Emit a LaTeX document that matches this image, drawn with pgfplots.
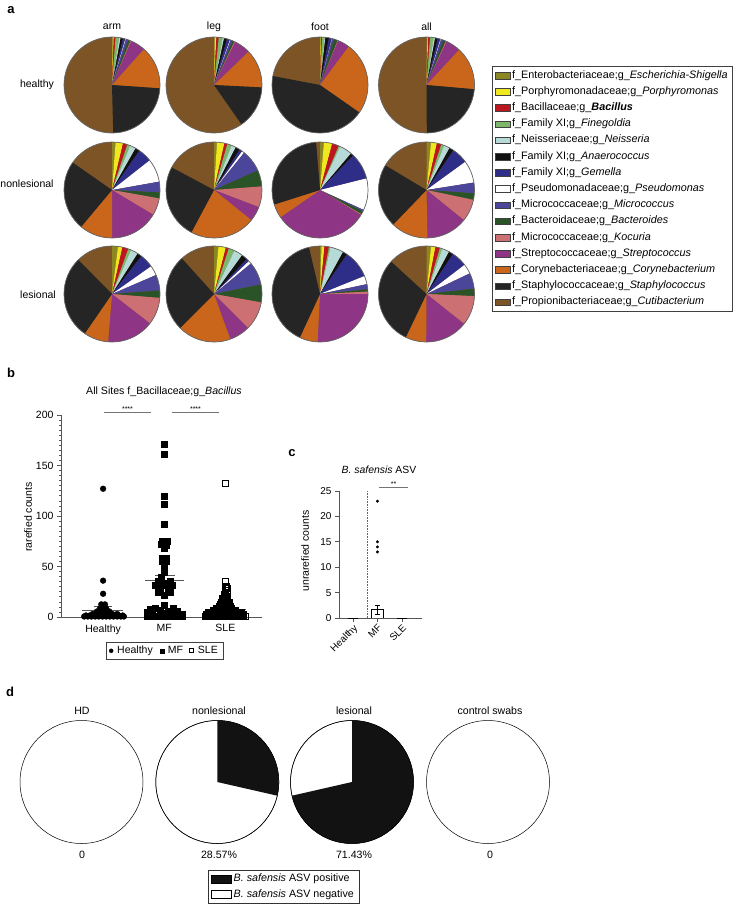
\documentclass[border=0pt]{standalone}
\usepackage{pgfplots}
\pgfplotsset{compat=1.18}
\usepackage{fontspec}
\setmainfont{Liberation Sans}

\definecolor{pc1}{RGB}{140,135,35}
\definecolor{pc2}{RGB}{240,232,30}
\definecolor{pc3}{RGB}{190,22,30}
\definecolor{pc4}{RGB}{125,183,106}
\definecolor{pc5}{RGB}{182,218,216}
\definecolor{pc6}{RGB}{17,17,17}
\definecolor{pc7}{RGB}{46,45,136}
\definecolor{pc8}{RGB}{255,255,255}
\definecolor{pc9}{RGB}{76,70,155}
\definecolor{pc10}{RGB}{42,84,39}
\definecolor{pc11}{RGB}{205,112,116}
\definecolor{pc12}{RGB}{142,53,134}
\definecolor{pc13}{RGB}{201,102,28}
\definecolor{pc14}{RGB}{37,37,37}
\definecolor{pc15}{RGB}{124,84,38}
\definecolor{axg}{RGB}{85,85,85}

\newcommand\fs[1]{\fontsize{#1}{#1}\selectfont}

% pie of 15 genera: 14 listed shares (percent), the last genus (Cutibacterium) is the remainder
\newcommand\pie[4]{%
  \edef\temp{\noexpand\fill[pc15] (axis cs:#1,#2) circle[radius=#3pt];}\temp
  \def\pieang{90}%
  \foreach \v [count=\i] in {#4} {%
    \pgfmathsetmacro\newang{\pieang-3.6*\v}%
    \edef\temp{\noexpand\fill[pc\i] (axis cs:#1,#2) -- ++(\pieang:#3pt) arc[start angle=\pieang, end angle=\newang, radius=#3pt] -- cycle;}%
    \temp
    \global\let\pieang\newang
  }%
  \edef\temp{\noexpand\draw[line width=0.7pt, black!60] (axis cs:#1,#2) circle[radius=#3pt];}\temp
}
% positive / negative pie
\newcommand\dpie[4]{%
  \edef\temp{\noexpand\draw[line width=0.5pt, black, fill=white] (axis cs:#1,#2) circle[radius=#3pt];}\temp
  \ifdim #4pt>0pt
    \pgfmathsetmacro\newang{90-3.6*#4}%
    \edef\temp{\noexpand\fill[black!93] (axis cs:#1,#2) -- ++(90:#3pt) arc[start angle=90, end angle=\newang, radius=#3pt] -- cycle;}\temp
    \edef\temp{\noexpand\draw[line width=0.5pt, black] (axis cs:#1,#2) circle[radius=#3pt];}\temp
  \fi
}

\pgfplotsset{
  sw/.style={legend image code/.code={\draw[fill=#1,draw=black!75,line width=0.4pt] (0pt,-3.3pt) rectangle (15pt,3.3pt);}},
  dsw/.style={legend image code/.code={\draw[fill=#1,draw=black,line width=0.5pt] (0pt,-4.2pt) rectangle (20pt,4.2pt);}},
  canvas/.style={at={(0pt,0pt)}, anchor=north west, scale only axis, width=734pt, height=906pt,
    xmin=0, xmax=734, ymin=-906, ymax=0, hide axis, clip=false},
  prism/.style={scale only axis, anchor=south west, clip=false,
    axis x line=bottom, axis y line=left, axis line style={-, draw=axg, line width=0.8pt},
    every outer x axis line/.append style={-}, every outer y axis line/.append style={-},
    tick align=outside, tick style={draw=axg, line width=0.7pt}, major tick length=4pt, minor tick length=2.2pt,
    tick label style={font=\fs{10.5}}, /pgf/number format/assume math mode=true},
}

\begin{document}
\begin{tikzpicture}
\path[use as bounding box] (0pt,0pt) rectangle (734pt,-906pt);

%================ panel a =================
\begin{axis}[canvas,
  legend cell align=left,
  legend style={at={(0.6703,0.9272)}, anchor=north west, draw=black!75, font=\fs{10.8},
    inner xsep=3pt, inner ysep=4pt, row sep=5.7pt,
    nodes={inner ysep=0pt, inner xsep=1.5pt, text height=8pt, text depth=2.5pt}}]
\addlegendimage{sw=pc1}  \addlegendentry{f\_Enterobacteriaceae;g\_\textit{Escherichia-Shigella}}
\addlegendimage{sw=pc2}  \addlegendentry{f\_Porphyromonadaceae;g\_\textit{Porphyromonas}}
\addlegendimage{sw=pc3}  \addlegendentry{f\_Bacillaceae;g\_\textbf{\textit{Bacillus}}}
\addlegendimage{sw=pc4}  \addlegendentry{f\_Family XI;g\_\textit{Finegoldia}}
\addlegendimage{sw=pc5}  \addlegendentry{f\_Neisseriaceae;g\_\textit{Neisseria}}
\addlegendimage{sw=pc6}  \addlegendentry{f\_Family XI;g\_\textit{Anaerococcus}}
\addlegendimage{sw=pc7}  \addlegendentry{f\_Family XI;g\_\textit{Gemella}}
\addlegendimage{sw=pc8}  \addlegendentry{f\_Pseudomonadaceae;g\_\textit{Pseudomonas}}
\addlegendimage{sw=pc9}  \addlegendentry{f\_Micrococcaceae;g\_\textit{Micrococcus}}
\addlegendimage{sw=pc10} \addlegendentry{f\_Bacteroidaceae;g\_\textit{Bacteroides}}
\addlegendimage{sw=pc11} \addlegendentry{f\_Micrococcaceae;g\_\textit{Kocuria}}
\addlegendimage{sw=pc12} \addlegendentry{f\_Streptococcaceae;g\_\textit{Streptococcus}}
\addlegendimage{sw=pc13} \addlegendentry{f\_Corynebacteriaceae;g\_\textit{Corynebacterium}}
\addlegendimage{sw=pc14} \addlegendentry{f\_Staphylococcaceae;g\_\textit{Staphylococcus}}
\addlegendimage{sw=pc15} \addlegendentry{f\_Propionibacteriaceae;g\_\textit{Cutibacterium}}

% healthy
\pie{112}{-85}{48}{0.3,0.3,0.6,1.2,0.5,0.8,0.8,0.2,0.8,0.8,0.3,5,14.5,23.5}
\pie{214}{-85}{48}{0.3,0.5,0.8,1.3,0.5,1.0,1.0,0.2,0.8,0.6,0.3,5.5,13,14.5}
\pie{320}{-85}{48}{0.2,0.2,0.3,0.8,0.3,1.2,1.0,0.1,0.6,1.3,0.2,4,24.5,43.3}
\pie{426.5}{-85}{48}{0.3,0.3,0.6,1.2,0.5,0.9,0.9,0.2,0.8,0.9,0.3,5,14.5,23.5}
% nonlesional
\pie{112}{-190}{48}{1.2,2.5,1.5,1.0,2.0,1.5,4.7,7.8,3.6,2.0,5.8,16.4,11.1,23.6}
\pie{214}{-190}{48}{1,2.5,1,1.5,1.5,1.5,1,0.8,7.5,5.5,7,5,22,25}
\pie{320}{-190}{48}{1.3,2.8,2.3,0.5,4.3,1,8.9,10.7,0.6,1,0.3,31.7,4.7,28.6}
\pie{426.5}{-190}{48}{1.5,2,1.5,1,2,1.5,5.5,7.5,3.6,2.2,7.5,13.9,12.5,21.4}
% lesional
\pie{112}{-294}{48}{2,1.5,2,1,2.5,1.5,4.7,3.3,5.3,2.5,9.2,15.8,8.3,28}
\pie{214}{-294}{48}{1.5,2.5,1,2,3,2,1,1,7.8,6,9.7,7,18,25.8}
\pie{320}{-294}{48}{0.5,1,1.5,0.5,4.5,1.5,9.4,2.8,1.7,0.8,0.8,25.8,6.1,39.4}
\pie{426.5}{-294}{48}{1.5,1.5,1.5,0.8,2.5,1.5,5.3,3.3,5.3,2.5,10,14.4,7,29.7}

\node[font=\fs{13}\bfseries] at (axis cs:11,-10) {a};
\node[font=\fs{10.5}] at (axis cs:112,-27) {arm};
\node[font=\fs{10.5}] at (axis cs:214,-27) {leg};
\node[font=\fs{10.5}] at (axis cs:320,-27) {foot};
\node[font=\fs{10.5}] at (axis cs:426.5,-27) {all};
\node[font=\fs{10.5}] at (axis cs:37,-85) {healthy};
\node[font=\fs{10.5}] at (axis cs:27,-184) {nonlesional};
\node[font=\fs{10.5}] at (axis cs:38,-295) {lesional};

% panel b / c texts
\node[font=\fs{13}\bfseries] at (axis cs:11,-373) {b};
\node[font=\fs{10.6}] at (axis cs:164,-392) {All Sites f\_Bacillaceae;g\_\textit{Bacillus}};
\node[font=\fs{10.5}, rotate=90] at (axis cs:28,-517) {rarefied counts};
\node[font=\fs{7}] at (axis cs:127.5,-409) {****};
\node[font=\fs{7}] at (axis cs:195.5,-409) {****};
\node[font=\fs{13}\bfseries] at (axis cs:292,-453) {c};
\node[font=\fs{10.4}] at (axis cs:379,-470) {\textit{B. safensis} ASV};
\node[font=\fs{10.5}, rotate=90] at (axis cs:305,-551) {unrarefied counts};
\node[font=\fs{7}] at (axis cs:393.5,-484) {**};
\end{axis}

%================ panel b =================
\begin{axis}[prism, at={(61pt,-617pt)}, width=201pt, height=202pt,
  xmin=0.311, xmax=3.6, ymin=0, ymax=200,
  xtick={1,2,3}, xticklabels={Healthy,MF,SLE}, major x tick style={draw=none},
  ytick={0,50,100,150,200}, minor y tick num=9,
  legend columns=-1,
  legend style={at={(0.515,-0.124)}, anchor=north, draw=black!75, font=\fs{10.5},
    inner xsep=3pt, inner ysep=2pt,
    /tikz/every odd column/.append style={column sep=2pt},
    /tikz/every even column/.append style={column sep=5pt}}]
\addplot[forget plot, only marks, mark=*, mark size=2.9pt, black] coordinates {
(1,127) (1,36) (1,23) (0.97,12.5) (1.03,12.5) (1,10.5) (0.95,8.5) (1.05,8.5)
(0.9,5.5) (1,5.5) (1.1,5.5) (0.83,3) (0.91,3) (0.99,3) (1.07,3) (1.15,3) (1.23,3)
(0.69,0.5) (0.75,0.5) (0.81,0.5) (0.87,0.5) (0.93,0.5) (0.99,0.5) (1.05,0.5) (1.11,0.5)
(1.17,0.5) (1.23,0.5) (1.29,0.5) (1.34,0.5)
(0.72,1.5) (0.78,1.5) (0.84,1.5) (0.9,1.5) (0.96,1.5) (1.02,1.5) (1.08,1.5) (1.14,1.5)
(1.2,1.5) (1.26,1.5) (1.32,1.5)};
\addplot[forget plot, only marks, mark=square*, mark size=3pt, black] coordinates {
(2,171) (2,161) (2,120) (2,112) (2,92) (1.96,75) (2.05,75) (1.95,72) (2.04,71) (2,68)
(1.96,58) (2.04,58) (1.96,55) (2.04,55) (2,51) (2,44) (1.95,39) (1.9,35) (2.1,35)
(1.95,33) (2.05,33) (1.85,31) (2,31) (2.13,31) (1.93,28) (2.07,28) (1.9,25) (2.1,25)
(2,22) (2,12) (1.86,9) (2.14,9) (1.77,8) (1.93,7) (2.06,6) (2.22,6) (1.72,5) (1.8,4)
(1.97,4) (2.1,3) (2.2,3) (2.3,3) (1.72,1) (1.8,1) (1.88,1) (1.96,1) (2.04,1) (2.12,1)
(2.2,1) (2.3,1)};
\addplot[forget plot, only marks, mark=square, mark size=2.9pt, line width=1.3pt, black] coordinates {
(3,132) (3,35) (3.02,30) (3,28) (3.04,28) (3,26) (3,24) (3.04,24) (2.98,22) (2.98,20) (3.04,20)
(2.96,18) (3.02,18) (2.96,16) (3.02,16) (2.94,14) (3,14) (3.06,14) (2.92,12) (2.98,12) (3.04,12)
(2.9,10) (2.96,10) (3.02,10) (3.08,10) (2.86,8) (2.92,8) (2.98,8) (3.04,8) (3.1,8)
(2.8,6) (2.86,6) (2.92,6) (2.98,6) (3.04,6) (3.1,6) (3.16,6)
(2.72,4) (2.78,4) (2.84,4) (2.9,4) (2.96,4) (3.02,4) (3.08,4) (3.14,4) (3.2,4) (3.26,4)
(2.7,2) (2.76,2) (2.82,2) (2.88,2) (2.94,2) (3,2) (3.06,2) (3.12,2) (3.18,2) (3.24,2) (3.3,2)
(2.68,0.5) (2.74,0.5) (2.8,0.5) (2.86,0.5) (2.92,0.5) (2.98,0.5) (3.04,0.5) (3.1,0.5)
(3.16,0.5) (3.22,0.5) (3.28,0.5) (3.33,0.5)};
% mean and SEM
\addplot[forget plot, axg, line width=0.9pt] coordinates {(0.66,6.2) (1.32,6.2)};
\addplot[forget plot, axg, line width=0.9pt] coordinates {(0.85,10.2) (1.15,10.2)};
\addplot[forget plot, axg, line width=0.9pt] coordinates {(1,2.2) (1,10.2)};
\addplot[forget plot, axg, line width=0.9pt] coordinates {(1.69,36) (2.33,36)};
\addplot[forget plot, axg, line width=0.9pt] coordinates {(1.85,41.5) (2.17,41.5)};
\addplot[forget plot, axg, line width=0.9pt] coordinates {(1.85,30.5) (2.17,30.5)};
\addplot[forget plot, axg, line width=0.9pt] coordinates {(2,30.5) (2,41.5)};
\addplot[forget plot, axg, line width=0.9pt] coordinates {(2.67,7.7) (3.33,7.7)};
\addplot[forget plot, axg, line width=0.9pt] coordinates {(2.85,9.6) (3.15,9.6)};
% significance bars
\addplot[forget plot, black!55, line width=1pt] coordinates {(1.016,202) (1.787,202)};
\addplot[forget plot, black!55, line width=1pt] coordinates {(2.13,202) (2.9,202)};
\addlegendimage{only marks, mark=*, mark size=2pt, black}
\addlegendentry{Healthy}
\addlegendimage{only marks, mark=square*, mark size=2pt, black}
\addlegendentry{MF}
\addlegendimage{only marks, mark=square, mark size=2pt, line width=1pt, black}
\addlegendentry{SLE}
\end{axis}

%================ panel c =================
\begin{axis}[prism, at={(339pt,-618pt)}, width=83pt, height=127pt,
  xmin=0.43, xmax=3.82, ymin=0, ymax=25,
  xtick={1,2,3}, xticklabels={Healthy,MF,SLE},
  x tick label style={rotate=45, anchor=north east, font=\fs{9.8}, inner sep=1pt},
  y tick label style={font=\fs{10}},
  ytick={0,5,10,15,20,25}]
\addplot[black!60, densely dotted, line width=0.6pt] coordinates {(1.573,0) (1.573,25)};
\addplot[black, line width=0.8pt, fill=white] coordinates {(1.77,0) (1.77,1.6) (2.23,1.6) (2.23,0)};
\addplot[black, line width=0.8pt] coordinates {(2,0.8) (2,2.5)};
\addplot[black, line width=0.8pt] coordinates {(1.88,2.5) (2.12,2.5)};
\addplot[black, line width=0.8pt] coordinates {(1.88,0.8) (2.12,0.8)};
\addplot[black, line width=0.9pt] coordinates {(0.78,0) (1.22,0)};
\addplot[black, line width=0.9pt] coordinates {(2.78,0) (3.22,0)};
\addplot[only marks, mark=*, mark size=1.3pt, black] coordinates {(2,23) (2,15) (2,14) (2,13)};
\addplot[black!55, line width=1pt] coordinates {(2.06,25.6) (3.25,25.6)};
\end{axis}

%================ panel d =================
\begin{axis}[canvas,
  legend cell align=left,
  legend style={at={(0.2834,0.0397)}, anchor=north west, draw=black!80, font=\fs{10.7},
    inner xsep=3pt, inner ysep=3.5pt, row sep=4.8pt,
    nodes={inner ysep=0pt, text height=8pt, text depth=2.5pt}}]
\addlegendimage{dsw=black!93} \addlegendentry{\textit{B. safensis} ASV positive}
\addlegendimage{dsw=white} \addlegendentry{\textit{B. safensis} ASV negative}
\dpie{81.5}{-782}{61.5}{0}
\dpie{217.3}{-782}{61.5}{28.57}
\dpie{352}{-782}{61.5}{71.43}
\dpie{488}{-782}{61.5}{0}
\node[font=\fs{13}\bfseries] at (axis cs:10,-692) {d};
\node[font=\fs{10.6}] at (axis cs:82,-711) {HD};
\node[font=\fs{10.6}] at (axis cs:219,-711) {nonlesional};
\node[font=\fs{10.6}] at (axis cs:354,-711) {lesional};
\node[font=\fs{10.6}] at (axis cs:490,-711) {control swabs};
\node[font=\fs{10.6}] at (axis cs:82,-855) {0};
\node[font=\fs{10.6}] at (axis cs:219,-855) {28.57\%};
\node[font=\fs{10.6}] at (axis cs:354,-855) {71.43\%};
\node[font=\fs{10.6}] at (axis cs:490,-855) {0};
\end{axis}
\end{tikzpicture}
\end{document}
